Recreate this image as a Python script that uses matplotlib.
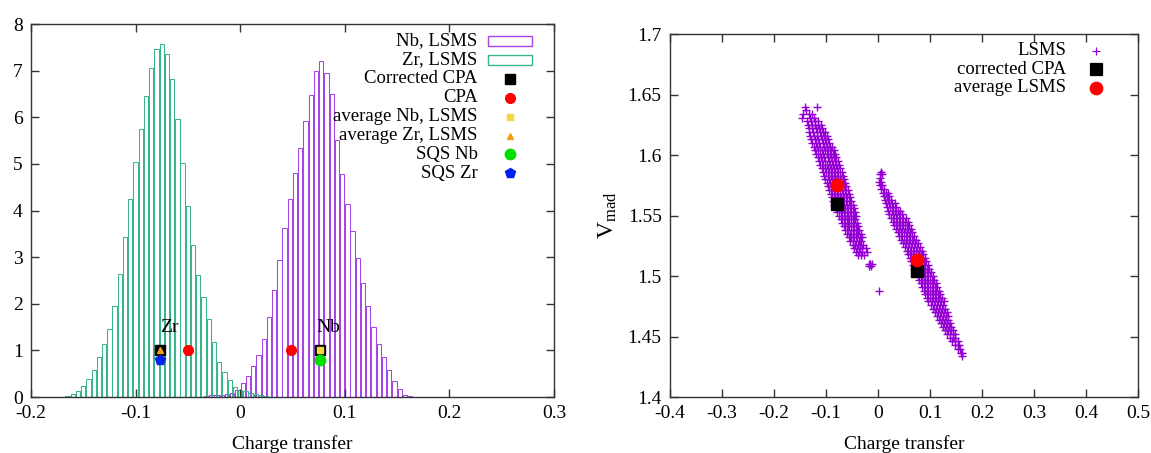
import numpy as np
import matplotlib
matplotlib.use("Agg")
from matplotlib import pyplot as plt
from matplotlib.patches import Rectangle

plt.rcParams['font.family'] = ['Liberation Serif', 'DejaVu Serif']
plt.rcParams['mathtext.fontset'] = 'custom'
plt.rcParams['mathtext.rm'] = 'Liberation Serif'
plt.rcParams['mathtext.it'] = 'Liberation Serif:italic'

PURPLE = '#9400d3'
NB_LINE = '#a446e6'
ZR_LINE = '#3ab489'
FRAME = '#333333'

# ---- left panel: charge transfer histograms (bin width 0.005)
BIN = 0.005
zr_start = -0.165
zr_heights = [0.02, 0.06, 0.13, 0.24, 0.38, 0.59, 0.85, 1.13, 1.46, 1.95,
              2.63, 3.43, 4.24, 5.03, 5.75, 6.45, 7.06, 7.46, 7.58, 7.36,
              6.81, 5.96, 5.02, 4.09, 3.26, 2.62, 2.14, 1.67, 1.19, 0.76,
              0.53, 0.37, 0.21, 0.15, 0.12, 0.08, 0.06, 0.05, 0.03, 0.01]
nb_start = -0.0325
nb_heights = [0.02, 0.04, 0.04, 0.05, 0.06, 0.09, 0.15, 0.29, 0.45, 0.66,
              0.90, 1.24, 1.71, 2.30, 2.94, 3.62, 4.24, 4.80, 5.34, 5.92,
              6.48, 7.00, 7.20, 6.95, 6.50, 5.52, 4.79, 4.14, 3.57, 2.98,
              2.44, 1.96, 1.51, 1.14, 0.86, 0.59, 0.35, 0.17, 0.05, 0.02]

corr_cpa_x = [-0.077, 0.076]
corr_cpa_y = [1.0, 1.0]
cpa_x = [-0.050, 0.049]
cpa_y = [1.0, 1.0]
avg_nb = (0.076, 1.0)
avg_zr = (-0.077, 1.0)
sqs_nb = (0.076, 0.8)
sqs_zr = (-0.077, 0.8)

left_xticks = [-0.2, -0.1, 0, 0.1, 0.2, 0.3]
left_xlabels = ['-0.2', '-0.1', '0', '0.1', '0.2', '0.3']
left_yticks = [0, 1, 2, 3, 4, 5, 6, 7, 8]

# ---- right panel: Madelung potential vs charge transfer, LSMS sites read row by row
zr_rows = [
    (1.640, [-0.141, -0.118]),
    (1.637, [-0.139]),
    (1.634, [-0.145, -0.133, -0.127]),
    (1.631, [-0.146, -0.131, -0.124]),
    (1.628, [-0.136, -0.129, -0.122, -0.116]),
    (1.625, [-0.134, -0.127, -0.121, -0.115, -0.110]),
    (1.622, [-0.133, -0.126, -0.120, -0.114, -0.108]),
    (1.619, [-0.132, -0.125, -0.118, -0.112, -0.106, -0.101]),
    (1.616, [-0.130, -0.123, -0.117, -0.110, -0.104, -0.099]),
    (1.613, [-0.128, -0.121, -0.115, -0.108, -0.102, -0.096]),
    (1.610, [-0.126, -0.119, -0.113, -0.106, -0.100, -0.094]),
    (1.607, [-0.124, -0.117, -0.111, -0.104, -0.098, -0.092, -0.088]),
    (1.604, [-0.121, -0.115, -0.108, -0.102, -0.096, -0.090, -0.085]),
    (1.601, [-0.119, -0.112, -0.106, -0.099, -0.093, -0.087, -0.082]),
    (1.598, [-0.116, -0.110, -0.103, -0.097, -0.091, -0.085, -0.080]),
    (1.595, [-0.113, -0.107, -0.101, -0.095, -0.089, -0.083, -0.077]),
    (1.592, [-0.111, -0.105, -0.099, -0.093, -0.087, -0.081, -0.075]),
    (1.589, [-0.108, -0.102, -0.096, -0.090, -0.084, -0.078, -0.073]),
    (1.586, [-0.106, -0.100, -0.094, -0.088, -0.082, -0.076, -0.070]),
    (1.583, [-0.103, -0.097, -0.091, -0.085, -0.079, -0.073, -0.068]),
    (1.580, [-0.101, -0.095, -0.089, -0.083, -0.077, -0.071, -0.065]),
    (1.577, [-0.098, -0.092, -0.086, -0.080, -0.074, -0.068, -0.063]),
    (1.574, [-0.096, -0.090, -0.084, -0.078, -0.072, -0.066, -0.061]),
    (1.571, [-0.094, -0.088, -0.082, -0.076, -0.070, -0.064, -0.058]),
    (1.568, [-0.091, -0.085, -0.079, -0.073, -0.067, -0.061, -0.056]),
    (1.565, [-0.089, -0.083, -0.077, -0.071, -0.065, -0.059, -0.054]),
    (1.562, [-0.086, -0.080, -0.074, -0.068, -0.062, -0.056, -0.051]),
    (1.559, [-0.084, -0.078, -0.072, -0.066, -0.060, -0.054, -0.049]),
    (1.556, [-0.081, -0.075, -0.069, -0.063, -0.057, -0.051, -0.047]),
    (1.553, [-0.078, -0.072, -0.066, -0.060, -0.054, -0.049, -0.044]),
    (1.550, [-0.075, -0.069, -0.063, -0.057, -0.052, -0.046, -0.042]),
    (1.547, [-0.072, -0.066, -0.060, -0.055, -0.049, -0.044]),
    (1.544, [-0.069, -0.063, -0.057, -0.052, -0.046, -0.041]),
    (1.541, [-0.066, -0.060, -0.055, -0.049, -0.043, -0.038]),
    (1.538, [-0.063, -0.057, -0.052, -0.046, -0.041, -0.036]),
    (1.535, [-0.060, -0.054, -0.049, -0.043, -0.038, -0.033]),
    (1.532, [-0.056, -0.051, -0.046, -0.040, -0.035, -0.031]),
    (1.529, [-0.053, -0.048, -0.042, -0.037, -0.032]),
    (1.526, [-0.049, -0.044, -0.039, -0.034, -0.029]),
    (1.523, [-0.046, -0.040, -0.035, -0.030, -0.024]),
    (1.520, [-0.042, -0.036, -0.031, -0.022]),
    (1.517, [-0.038, -0.032, -0.027]),
    (1.510, [-0.018, -0.015, -0.012]),
    (1.508, [-0.017, -0.014]),
]
nb_rows = [
    (1.586, [0.005]),
    (1.584, [0.003, 0.007]),
    (1.581, [0.004]),
    (1.578, [0.002, 0.006]),
    (1.575, [0.004, 0.008]),
    (1.572, [0.006, 0.012]),
    (1.569, [0.009, 0.015, 0.020]),
    (1.566, [0.011, 0.017, 0.022]),
    (1.563, [0.013, 0.019, 0.025]),
    (1.560, [0.015, 0.021, 0.027, 0.032]),
    (1.557, [0.017, 0.023, 0.029, 0.035]),
    (1.554, [0.020, 0.026, 0.032, 0.038, 0.043]),
    (1.551, [0.022, 0.028, 0.034, 0.040, 0.046]),
    (1.548, [0.025, 0.031, 0.037, 0.043, 0.049, 0.054]),
    (1.545, [0.028, 0.034, 0.040, 0.046, 0.052, 0.057]),
    (1.542, [0.031, 0.037, 0.043, 0.049, 0.055, 0.060]),
    (1.539, [0.034, 0.040, 0.046, 0.052, 0.058, 0.063]),
    (1.536, [0.038, 0.044, 0.050, 0.056, 0.062, 0.066]),
    (1.533, [0.041, 0.047, 0.053, 0.059, 0.065, 0.069]),
    (1.530, [0.044, 0.050, 0.056, 0.062, 0.068, 0.073]),
    (1.527, [0.048, 0.054, 0.060, 0.066, 0.072, 0.077]),
    (1.524, [0.051, 0.057, 0.063, 0.069, 0.075, 0.080]),
    (1.521, [0.055, 0.061, 0.067, 0.073, 0.079, 0.084]),
    (1.518, [0.058, 0.064, 0.070, 0.076, 0.082, 0.087]),
    (1.515, [0.061, 0.067, 0.073, 0.079, 0.085, 0.090]),
    (1.512, [0.064, 0.070, 0.076, 0.082, 0.088, 0.093]),
    (1.509, [0.067, 0.073, 0.079, 0.085, 0.091, 0.096]),
    (1.506, [0.070, 0.076, 0.082, 0.088, 0.094, 0.099]),
    (1.503, [0.073, 0.079, 0.085, 0.091, 0.097, 0.102]),
    (1.500, [0.076, 0.082, 0.088, 0.094, 0.100, 0.105]),
    (1.497, [0.079, 0.085, 0.091, 0.097, 0.103, 0.108]),
    (1.494, [0.082, 0.088, 0.094, 0.100, 0.106, 0.111]),
    (1.491, [0.085, 0.091, 0.097, 0.103, 0.109, 0.114]),
    (1.488, [0.002, 0.088, 0.094, 0.100, 0.106, 0.112, 0.117]),
    (1.485, [0.091, 0.097, 0.103, 0.109, 0.115, 0.120]),
    (1.482, [0.094, 0.100, 0.106, 0.112, 0.118, 0.123]),
    (1.479, [0.097, 0.103, 0.109, 0.115, 0.121, 0.126]),
    (1.476, [0.101, 0.107, 0.113, 0.119, 0.125]),
    (1.473, [0.105, 0.111, 0.117, 0.123, 0.129]),
    (1.470, [0.109, 0.115, 0.121, 0.127, 0.132]),
    (1.467, [0.113, 0.119, 0.125, 0.131, 0.135]),
    (1.464, [0.117, 0.123, 0.129, 0.134]),
    (1.461, [0.121, 0.127, 0.133, 0.138]),
    (1.458, [0.125, 0.131, 0.137, 0.141]),
    (1.455, [0.129, 0.135, 0.141, 0.145]),
    (1.452, [0.133, 0.139, 0.145, 0.149]),
    (1.449, [0.138, 0.144, 0.149]),
    (1.446, [0.143, 0.148, 0.153]),
    (1.443, [0.148, 0.153, 0.156]),
    (1.440, [0.153, 0.158]),
    (1.436, [0.160, 0.162]),
    (1.434, [0.161]),
]
r_corr_x = [-0.078, 0.075]
r_corr_y = [1.5595, 1.5045]
r_avg_x = [-0.078, 0.075]
r_avg_y = [1.5752, 1.5135]

right_xticks = [-0.4, -0.3, -0.2, -0.1, 0, 0.1, 0.2, 0.3, 0.4, 0.5]
right_xlabels = ['-0.4', '-0.3', '-0.2', '-0.1', '0', '0.1', '0.2', '0.3', '0.4', '0.5']
right_yticks = [1.4, 1.45, 1.5, 1.55, 1.6, 1.65, 1.7]
right_ylabels = ['1.4', '1.45', '1.5', '1.55', '1.6', '1.65', '1.7']


def style_axes(ax):
    for s in ax.spines.values():
        s.set_color(FRAME)
        s.set_linewidth(1.0)
    ax.tick_params(direction='in', top=True, right=True, length=6, width=1,
                   color=FRAME, labelsize=14, pad=6)


def flatten(rows):
    xs = [x for y, row in rows for x in row]
    ys = [y for y, row in rows for x in row]
    return xs, ys


fig = plt.figure(figsize=(11.51, 4.53), dpi=100)

# ================= left
ax1 = fig.add_axes([0.0269, 0.1236, 0.4544, 0.8234])
nb_centers = nb_start + BIN * np.arange(len(nb_heights))
zr_centers = zr_start + BIN * np.arange(len(zr_heights))
ax1.bar(nb_centers, nb_heights, width=0.0041, fill=False, edgecolor=NB_LINE, linewidth=0.75)
ax1.bar(zr_centers, zr_heights, width=0.0041, fill=False, edgecolor=ZR_LINE, linewidth=0.75)

ax1.plot(corr_cpa_x, corr_cpa_y, 's', color='black', ms=6.5, ls='none')
ax1.plot(cpa_x, cpa_y, 'o', color='red', ms=7, ls='none')
ax1.plot(*avg_nb, 's', color='#f5d742', ms=4, ls='none')
ax1.plot(*avg_zr, '^', color='#f39c12', ms=5, ls='none')
ax1.plot(*sqs_nb, 'o', color='#00e000', ms=7.5, ls='none')
ax1.plot(*sqs_zr, 'p', color='#0022ee', ms=7, ls='none')
ax1.text(-0.077, 1.5, 'Zr', fontsize=14, ha='left', va='center')
ax1.text(0.073, 1.5, 'Nb', fontsize=14, ha='left', va='center')

ax1.set_xlim(-0.2, 0.3)
ax1.set_ylim(0, 8)
ax1.set_xticks(left_xticks)
ax1.set_xticklabels(left_xlabels)
ax1.set_yticks(left_yticks)
ax1.set_xlabel('Charge transfer', fontsize=14, labelpad=9)
style_axes(ax1)

# key, gnuplot style: text right-aligned, sample on the right
left_keys = ['Nb, LSMS', 'Zr, LSMS', 'Corrected CPA', 'CPA',
             'average Nb, LSMS', 'average Zr, LSMS', 'SQS Nb', 'SQS Zr']
tx, mx = 0.854, 0.916
for i, lab in enumerate(left_keys):
    y = 0.955 - i * 0.0508
    ax1.text(tx, y, lab, transform=ax1.transAxes, ha='right', va='center', fontsize=13.5)
ax1.add_patch(Rectangle((0.873, 0.955 - 0.0135), 0.085, 0.027, transform=ax1.transAxes,
                        fill=False, edgecolor=NB_LINE, lw=1.0, clip_on=False))
ax1.add_patch(Rectangle((0.873, 0.955 - 0.0508 - 0.0135), 0.085, 0.027, transform=ax1.transAxes,
                        fill=False, edgecolor=ZR_LINE, lw=1.0, clip_on=False))
key_marks = [('s', 'black', 6.5), ('o', 'red', 7), ('s', '#f5d742', 4),
             ('^', '#f39c12', 5), ('o', '#00e000', 7.5), ('p', '#0022ee', 7)]
for j, (m, c, s) in enumerate(key_marks):
    y = 0.955 - (j + 2) * 0.0508
    ax1.plot([mx], [y], m, color=c, ms=s, transform=ax1.transAxes, clip_on=False)

# ================= right
ax2 = fig.add_axes([0.5821, 0.1236, 0.4066, 0.8013])
zx, zy = flatten(zr_rows)
nx, ny = flatten(nb_rows)
ax2.plot(zx, zy, '+', color=PURPLE, ms=6, mew=1.0, ls='none')
ax2.plot(nx, ny, '+', color=PURPLE, ms=6, mew=1.0, ls='none')
ax2.plot(r_corr_x, r_corr_y, 's', color='black', ms=9, ls='none')
ax2.plot(r_avg_x, r_avg_y, 'o', color='red', ms=9, ls='none')

ax2.set_xlim(-0.4, 0.5)
ax2.set_ylim(1.4, 1.7)
ax2.set_xticks(right_xticks)
ax2.set_xticklabels(right_xlabels)
ax2.set_yticks(right_yticks)
ax2.set_yticklabels(right_ylabels)
ax2.set_xlabel('Charge transfer', fontsize=14, labelpad=9)
ax2.set_ylabel(r'V$_{\mathrm{mad}}$', fontsize=17, labelpad=6)
style_axes(ax2)

right_keys = [('LSMS', '+', PURPLE, 6), ('corrected CPA', 's', 'black', 9),
              ('average LSMS', 'o', 'red', 9)]
for i, (lab, m, c, s) in enumerate(right_keys):
    y = 0.954 - i * 0.051
    ax2.text(0.846, y, lab, transform=ax2.transAxes, ha='right', va='center', fontsize=13.5)
    ax2.plot([0.911], [y], m, color=c, ms=s, mew=0.9, transform=ax2.transAxes, clip_on=False)

fig.savefig('out.png', dpi=100)
